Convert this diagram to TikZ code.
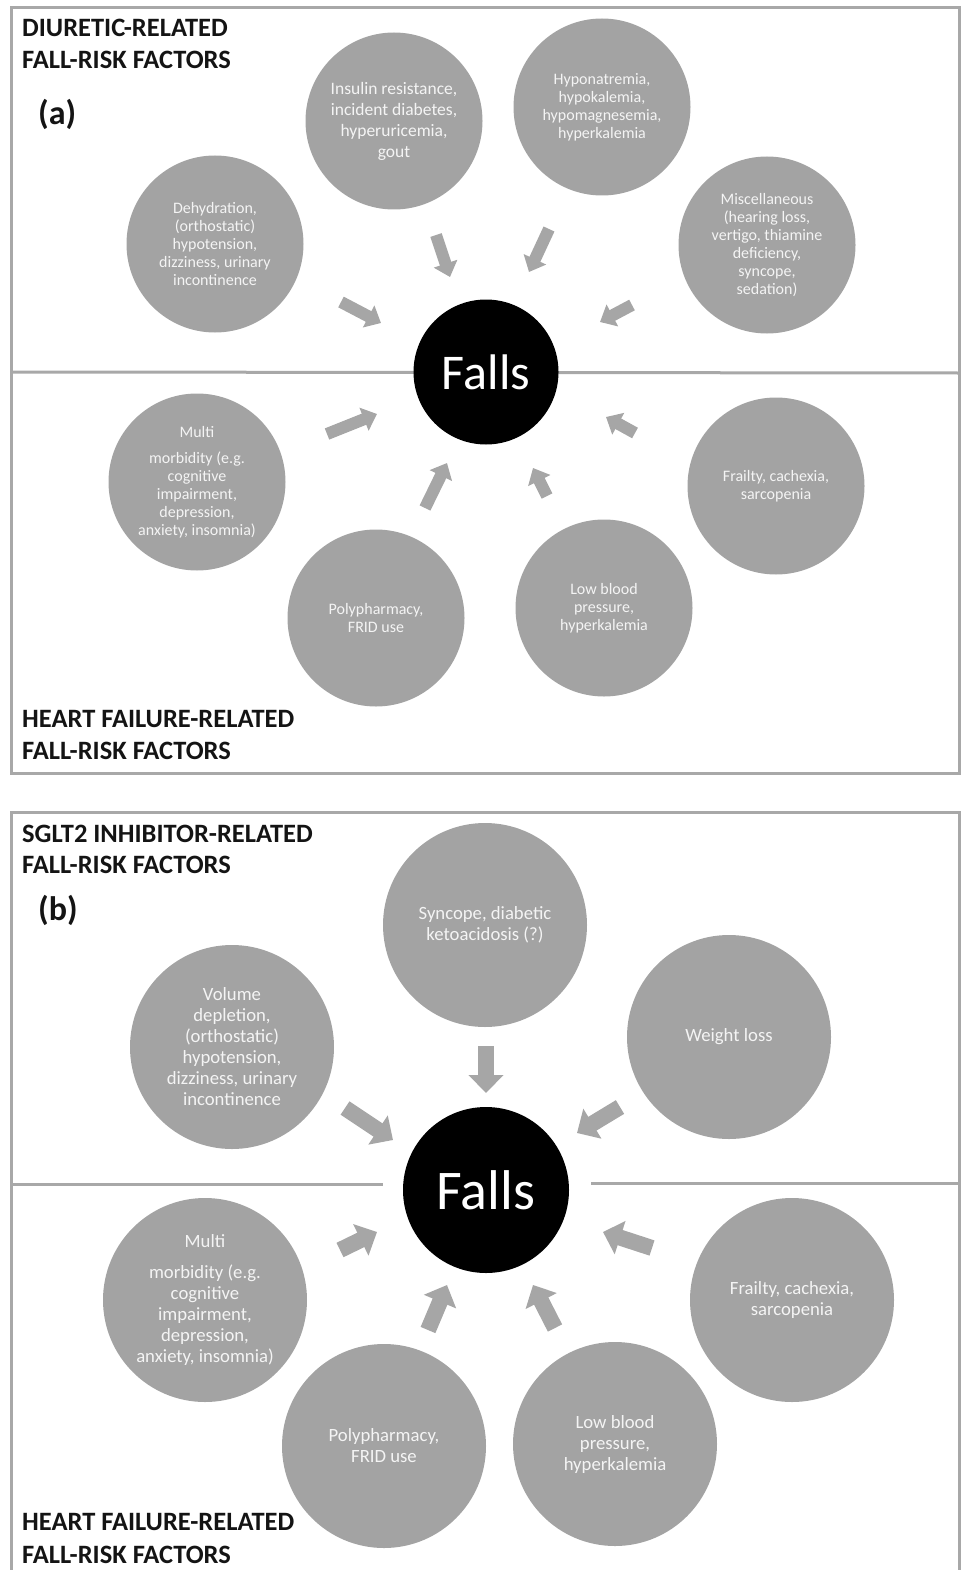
\documentclass[tikz,border=0pt]{standalone}
\usepackage{fontspec}
\setmainfont{Carlito}
\usetikzlibrary{arrows.meta}
\definecolor{cgray}{HTML}{A3A3A3}
\definecolor{agray}{HTML}{A6A6A6}
\definecolor{fgray}{HTML}{A8A8A8}
\definecolor{ctext}{HTML}{F4F4F4}
\definecolor{ttext}{HTML}{141414}
\begin{document}
\begin{tikzpicture}[x=1pt,y=-1pt,
  factor/.style={circle, fill=cgray, text=ctext, align=center, inner sep=0pt},
  fa/.style={factor, minimum size=177pt, font=\fontsize{16}{18}\selectfont},
  fb/.style={factor, minimum size=204pt, font=\fontsize{18.7}{21}\selectfont},
  falls/.style={circle, fill=black, text=white, inner sep=0pt},
  framestyle/.style={draw=fgray, line width=3pt},
  arra/.style={draw=agray, line width=12pt, -{Triangle[width=24pt,length=14pt]}},
  arrb/.style={draw=agray, line width=16pt, -{Triangle[width=34pt,length=18pt]}},
  title/.style={anchor=base west, inner sep=0pt, text=ttext, font=\fontsize{26.5}{26.5}\selectfont\bfseries},
  tag/.style={anchor=west, inner sep=0pt, text=ttext, font=\fontsize{34}{34}\selectfont\bfseries}
]
\useasboundingbox (0,0) rectangle (962,1570);

% ---------- panel (a) ----------
\draw[framestyle] (11,8) rectangle (959,773);
\draw[framestyle] (11,372) -- (959,373);

\node[title] (tA1) at (22,37) {DIURETIC-RELATED};
\node[title] (tA2) at (22,69) {FALL-RISK FACTORS};
\node[tag] (labA) at (38,114) {(a)};
\node[title] (tA3) at (22,727) {HEART FAILURE-RELATED};
\node[title] (tA4) at (22,759) {FALL-RISK FACTORS};

\node[falls, minimum size=145pt, font=\fontsize{50}{50}\selectfont] (fallsA) at (486,372) {Falls};

\node[fa] (dehyd) at (215,244) {Dehydration,\\(orthostatic)\\hypotension,\\dizziness, urinary\\incontinence};
\node[fa, font=\fontsize{17.5}{21}\selectfont] (insulin) at (394,121) {Insulin resistance,\\incident diabetes,\\hyperuricemia,\\gout};
\node[fa] (hypo) at (602,107) {Hyponatremia,\\hypokalemia,\\hypomagnesemia,\\hyperkalemia};
\node[fa] (misc) at (767,245) {Miscellaneous\\(hearing loss,\\vertigo, thiamine\\deficiency,\\syncope,\\sedation)};
\node[fa] (multiA) at (197,482) {Multi\\[8pt]morbidity (e.g.\\cognitive\\impairment,\\depression,\\anxiety, insomnia)};
\node[fa] (polyA) at (376,618) {Polypharmacy,\\FRID use};
\node[fa] (lowA) at (604,608) {Low blood\\pressure,\\hyperkalemia};
\node[fa] (frailA) at (776,486) {Frailty, cachexia,\\sarcopenia};

\coordinate (a1t) at (341,302); \coordinate (a1h) at (381,323);
\coordinate (a2t) at (436,235); \coordinate (a2h) at (450,277);
\coordinate (a3t) at (549,229); \coordinate (a3h) at (529,272);
\coordinate (a4t) at (632,305); \coordinate (a4h) at (600,322);
\coordinate (a5t) at (327,434); \coordinate (a5h) at (377,414);
\coordinate (a6t) at (425,508); \coordinate (a6h) at (447,463);
\coordinate (a7t) at (547,496); \coordinate (a7h) at (533,468);
\coordinate (a8t) at (635,433); \coordinate (a8h) at (606,417);
\foreach \i in {1,...,8} {\draw[arra] (a\i t) -- (a\i h);}

% ---------- panel (b) ----------
\draw[framestyle] (11,1570) -- (11,812) -- (959,812) -- (959,1570);
\draw[framestyle] (11,1184) -- (383,1184);
\draw[framestyle] (591,1183) -- (959,1183);

\node[title] (tB1) at (22,842) {SGLT2 INHIBITOR-RELATED};
\node[title] (tB2) at (22,873) {FALL-RISK FACTORS};
\node[tag] (labB) at (38,910) {(b)};
\node[title] (tB3) at (22,1530) {HEART FAILURE-RELATED};
\node[title] (tB4) at (22,1563) {FALL-RISK FACTORS};

\node[falls, minimum size=166pt, font=\fontsize{56}{56}\selectfont] (fallsB) at (486,1190) {Falls};

\node[fb] (volume) at (232,1047) {Volume\\depletion,\\(orthostatic)\\hypotension,\\dizziness, urinary\\incontinence};
\node[fb] (syncope) at (485,925) {Syncope, diabetic\\ketoacidosis (?)};
\node[fb] (weight) at (729,1037) {Weight loss};
\node[fb] (multiB) at (205,1300) {Multi\\[10pt]morbidity (e.g.\\cognitive\\impairment,\\depression,\\anxiety, insomnia)};
\node[fb] (polyB) at (384,1446) {Polypharmacy,\\FRID use};
\node[fb] (lowB) at (615,1444) {Low blood\\pressure,\\hyperkalemia};
\node[fb] (frailB) at (792,1300) {Frailty, cachexia,\\sarcopenia};

\coordinate (b1t) at (486,1046); \coordinate (b1h) at (486,1093);
\coordinate (b2t) at (345,1108); \coordinate (b2h) at (393,1140);
\coordinate (b3t) at (620,1107); \coordinate (b3h) at (577,1133);
\coordinate (b4t) at (340,1250); \coordinate (b4h) at (377,1232);
\coordinate (b5t) at (428,1330); \coordinate (b5h) at (447,1285);
\coordinate (b6t) at (555,1328); \coordinate (b6h) at (533,1285);
\coordinate (b7t) at (652,1248); \coordinate (b7h) at (603,1232);
\foreach \i in {1,...,7} {\draw[arrb] (b\i t) -- (b\i h);}
\end{tikzpicture}
\end{document}
